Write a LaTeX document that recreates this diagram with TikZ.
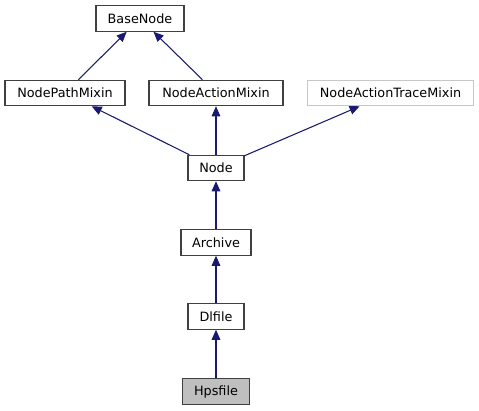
\documentclass[tikz,border=0pt]{standalone}
\usepackage{fontspec}
\setmainfont{DejaVu Sans}
\usetikzlibrary{arrows.meta}
\definecolor{edgeblue}{RGB}{25,25,112}
\tikzset{
  classbox/.style={draw=black!75,line width=0.9pt,fill=white,inner sep=0pt,minimum height=19pt,font=\fontsize{9.6}{11}\selectfont},
  inherit/.style={edgeblue,line width=0.8pt,-{Triangle[length=7.5pt,width=6.5pt]}}
}
\begin{document}
\begin{tikzpicture}[x=0.75pt,y=-0.75pt]
  \useasboundingbox (0,0) rectangle (479,411);
  %classi
  \node[classbox,minimum width=66pt] (base) at (140,18.5) {BaseNode};
  \node[classbox,minimum width=90pt] (pathmixin) at (65,93) {NodePathMixin};
  \node[classbox,minimum width=100.5pt] (actionmixin) at (216,93) {NodeActionMixin};
  \node[classbox,draw=black!22,minimum width=125pt] (tracemixin) at (390.5,93) {NodeActionTraceMixin};
  \node[classbox,minimum width=42pt] (node) at (216,168) {Node};
  \node[classbox,minimum width=52.5pt] (archive) at (216,242.5) {Archive};
  \node[classbox,minimum width=42pt] (dlfile) at (216,316.5) {Dlfile};
  \node[classbox,fill=black!25,minimum width=50pt] (hpsfile) at (216,391.5) {Hpsfile};
  %frecce
  \draw[inherit] (pathmixin) -- (base);
  \draw[inherit] (actionmixin) -- (base);
  \draw[inherit] (node) -- (pathmixin);
  \draw[inherit] (node) -- (actionmixin);
  \draw[inherit] (node) -- (tracemixin);
  \draw[inherit] (archive) -- (node);
  \draw[inherit] (dlfile) -- (archive);
  \draw[inherit] (hpsfile) -- (dlfile);
\end{tikzpicture}
\end{document}
